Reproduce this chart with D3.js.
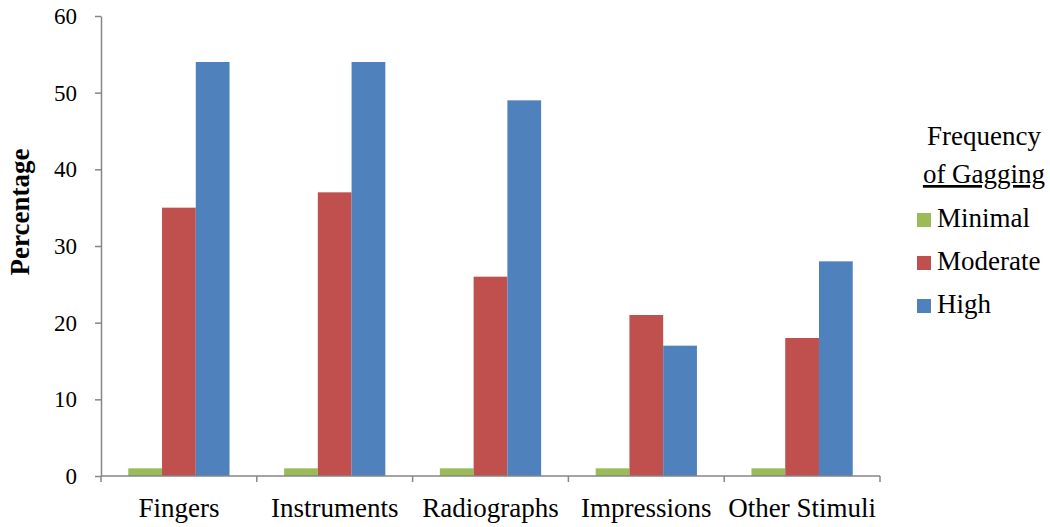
<!DOCTYPE html>
<html>
<head>
<meta charset="utf-8">
<script src="https://cdn.jsdelivr.net/npm/d3@7"></script>
<style>
  body { margin: 0; background: #fff; }
  .axis path, .axis line { stroke: #868686; stroke-width: 1.5; }
</style>
</head>
<body>
<div id="chart"></div>
<script>
// data
const categories = ["Fingers", "Instruments", "Radiographs", "Impressions", "Other Stimuli"];
const seriesNames = ["Minimal", "Moderate", "High"];
const minimal = [1, 1, 1, 1, 1];
const moderate = [35, 37, 26, 21, 18];
const high = [54, 54, 49, 17, 28];
const yTicks = [0, 10, 20, 30, 40, 50, 60];
const colors = ["#9BBB59", "#C0504D", "#4F81BD"];

const FONT = "'Times New Roman', Times, 'Liberation Serif', serif";
const width = 1050, height = 527;
const margin = { top: 16, right: 170, bottom: 51, left: 101 };

const svg = d3.select("#chart").append("svg")
    .attr("width", width)
    .attr("height", height)
    .attr("font-family", FONT);

const values = [minimal, moderate, high];
const rows = categories.map((c, i) => ({
    cat: c,
    vals: seriesNames.map((s, j) => ({ key: s, value: values[j][i] }))
}));

const x0 = d3.scaleBand()
    .domain(categories)
    .range([margin.left, width - margin.right])
    .padding(0);

const bw = x0.bandwidth();
const x1 = d3.scaleBand()
    .domain(seriesNames)
    .range([bw * 0.175, bw * 0.825])
    .padding(0);

const color = d3.scaleOrdinal().domain(seriesNames).range(colors);

const y = d3.scaleLinear()
    .domain([0, 60])
    .range([height - margin.bottom, margin.top]);

// bars
svg.append("g")
  .selectAll("g")
  .data(rows)
  .join("g")
    .attr("transform", d => "translate(" + x0(d.cat) + ",0)")
  .selectAll("rect")
  .data(d => d.vals)
  .join("rect")
    .attr("x", d => x1(d.key))
    .attr("y", d => y(d.value))
    .attr("width", x1.bandwidth())
    .attr("height", d => y(0) - y(d.value))
    .attr("fill", d => color(d.key));

// y axis
const yAxis = svg.append("g")
    .attr("class", "axis")
    .attr("transform", "translate(" + margin.left + ",0)")
    .call(d3.axisLeft(y).tickValues(yTicks).tickSize(6).tickSizeOuter(0).tickPadding(18));
yAxis.attr("font-family", FONT);
yAxis.selectAll("text")
    .style("font-family", FONT)
    .style("font-size", "23px")
    .attr("fill", "#000");

// x axis: ticks at band edges
const edges = categories.map(c => x0(c)).concat([x0.range()[1]]);
const xAxis = svg.append("g")
    .attr("class", "axis")
    .attr("transform", "translate(0," + y(0) + ")");
xAxis.append("line")
    .attr("x1", x0.range()[0]).attr("x2", x0.range()[1])
    .attr("y1", 0).attr("y2", 0);
xAxis.selectAll(".edge")
  .data(edges)
  .join("line")
    .attr("class", "edge")
    .attr("x1", d => d).attr("x2", d => d)
    .attr("y1", 0).attr("y2", 6);
xAxis.selectAll(".lbl")
  .data(categories)
  .join("text")
    .attr("class", "lbl")
    .attr("x", d => x0(d) + bw / 2)
    .attr("y", 41)
    .attr("text-anchor", "middle")
    .style("font-family", FONT)
    .style("font-size", "27px")
    .text(d => d);

// y axis title
svg.append("text")
    .attr("transform", "translate(29,212) rotate(-90)")
    .attr("text-anchor", "middle")
    .style("font-family", FONT)
    .style("font-size", "27px")
    .style("font-weight", "bold")
    .text("Percentage");

// legend
const legend = svg.append("g").attr("transform", "translate(917,0)");
legend.append("text")
    .attr("x", 67).attr("y", 145)
    .attr("text-anchor", "middle")
    .style("font-family", FONT)
    .style("font-size", "27px")
    .text("Frequency");
legend.append("text")
    .attr("x", 67).attr("y", 183)
    .attr("text-anchor", "middle")
    .style("font-family", FONT)
    .style("font-size", "27px")
    .style("text-decoration", "underline")
    .text("of Gagging");

const item = legend.selectAll(".item")
  .data(seriesNames)
  .join("g")
    .attr("class", "item")
    .attr("transform", (d, i) => "translate(0," + (227 + i * 43) + ")");
item.append("rect")
    .attr("x", 0).attr("y", -14)
    .attr("width", 14).attr("height", 14)
    .attr("fill", d => color(d));
item.append("text")
    .attr("x", 20).attr("y", 0)
    .style("font-family", FONT)
    .style("font-size", "27px")
    .text(d => d);
</script>
</body>
</html>
